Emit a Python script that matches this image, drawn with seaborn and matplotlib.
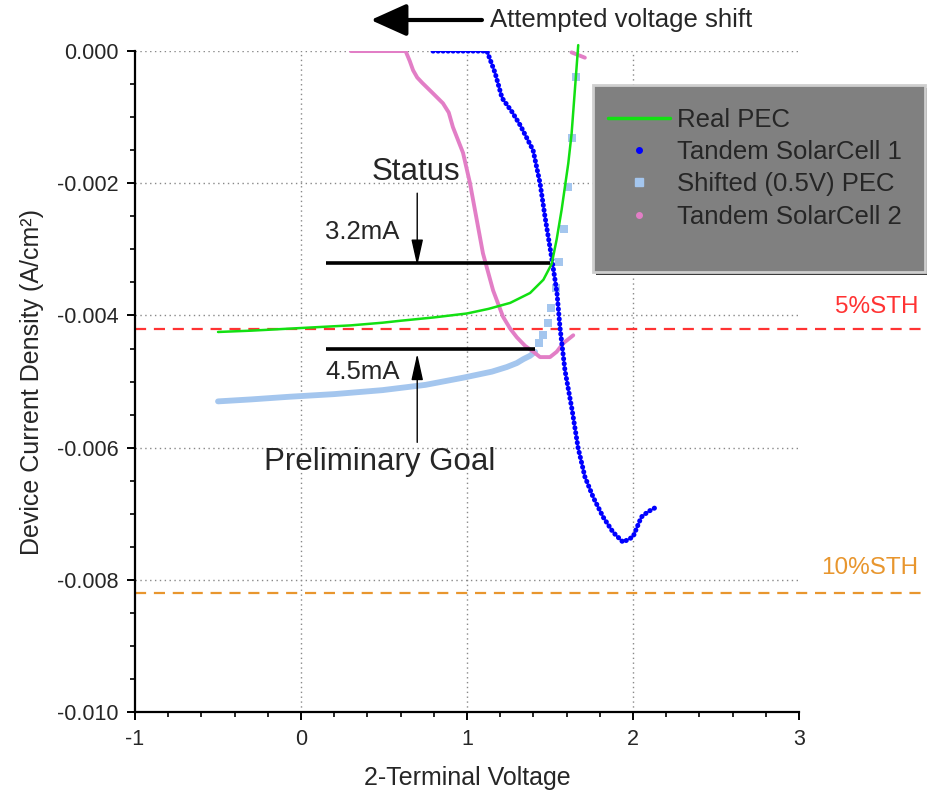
import matplotlib
matplotlib.use("Agg")
import matplotlib.pyplot as plt
from matplotlib.lines import Line2D
from matplotlib.patches import Rectangle
from matplotlib.ticker import MultipleLocator, FormatStrFormatter
import numpy as np
import pandas as pd
import seaborn as sns

# --- measured curves -------------------------------------------------------
real_pec_v = [-0.50, -0.30, 0.00, 0.30, 0.49, 0.60, 0.80, 1.00, 1.13, 1.26,
              1.38, 1.46, 1.51, 1.54, 1.57, 1.59, 1.61, 1.63, 1.65, 1.67]
real_pec_j = [-0.00425, -0.00423, -0.00419, -0.00415, -0.00411, -0.00408,
              -0.00403, -0.00397, -0.00390, -0.00381, -0.00366, -0.00346,
              -0.00322, -0.00285, -0.00240, -0.00205, -0.00170, -0.00125,
              -0.00058, 0.00009]

tandem1_v = [0.795, 1.12, 1.169, 1.211, 1.271, 1.32, 1.398, 1.44, 1.47,
             1.512, 1.542, 1.56, 1.59, 1.633, 1.669, 1.71, 1.76, 1.82, 1.88,
             1.94, 2.00, 2.05, 2.09, 2.14]
tandem1_j = [0.0, 0.0, -0.00033, -0.00071, -0.00092, -0.00112, -0.0015,
             -0.0020, -0.00251, -0.00316, -0.00366, -0.00418, -0.00483,
             -0.00543, -0.0060, -0.00644, -0.00675, -0.00705, -0.00728,
             -0.00743, -0.00735, -0.00705, -0.00697, -0.0069]

shifted_band_v = [-0.50, -0.30, -0.07, 0.20, 0.49, 0.75, 0.98, 1.15, 1.24,
                  1.30, 1.34, 1.38, 1.41]
shifted_band_j = [-0.00530, -0.00527, -0.00523, -0.00519, -0.00513,
                  -0.00505, -0.00494, -0.00485, -0.00478, -0.00472,
                  -0.00466, -0.00461, -0.00455]
shifted_pts_v = [1.434, 1.458, 1.488, 1.506, 1.536, 1.554, 1.585, 1.608,
                 1.633, 1.657]
shifted_pts_j = [-0.00442, -0.0043, -0.00412, -0.00389, -0.00359, -0.00319,
                 -0.00269, -0.00206, -0.00132, -0.00039]

tandem2_v = [0.30, 0.63, 0.655, 0.675, 0.70, 0.73, 0.795, 0.855, 0.89,
             0.915, 0.976, 1.018, 1.096, 1.157, 1.217, 1.26, 1.30, 1.35,
             1.40, 1.44, 1.50, 1.52, 1.54, 1.58, 1.64]
tandem2_j = [0.0, 0.0, -0.00015, -0.00029, -0.00040, -0.00048, -0.00064,
             -0.00079, -0.00093, -0.00115, -0.00154, -0.0020, -0.00306,
             -0.00362, -0.00402, -0.00420, -0.00433, -0.00446, -0.00455,
             -0.00463, -0.00463, -0.00459, -0.00455, -0.00442, -0.0043]
tandem2_tail_v = [1.63, 1.71]
tandem2_tail_j = [-0.00002, -0.00010]

# --- reference levels and annotations ---------------------------------------
sth5_level = -0.0042
sth10_level = -0.0082
status_j = -0.0032
goal_j = -0.0045

green = "#12E012"
blue = "#0000FF"
light_blue = "#A4C6EE"
pink = "#E27EC6"
red = "#FF3333"
orange = "#E8962E"

sns.set_theme(style="white")
plt.rcParams["font.family"] = ["Liberation Sans", "DejaVu Sans"]

fig = plt.figure(figsize=(9.28, 7.93), dpi=100)
ax = fig.add_axes([0.1455, 0.1021, 0.7155, 0.8335])

ax.set_xlim(-1, 3)
ax.set_ylim(-0.010, 0.0)

# dotted grid at the major positions inside the frame
for gx in [0, 1, 2]:
    ax.axvline(gx, color="#888888", lw=1.0, ls=(0, (1, 2.5)), zorder=0)
for gy in [0.0, -0.002, -0.004, -0.006, -0.008]:
    ax.axhline(gy, color="#888888", lw=1.0, ls=(0, (1, 2.5)), zorder=0)

# efficiency levels, running past the frame to the page edge
ax.axhline(sth5_level, xmin=0, xmax=1.2, color=red, lw=1.6,
           ls=(0, (5, 3.5)), clip_on=False, zorder=1)
ax.axhline(sth10_level, xmin=0, xmax=1.2, color=orange, lw=1.6,
           ls=(0, (5, 3.5)), clip_on=False, zorder=1)

df_real = pd.DataFrame({"v": real_pec_v, "j": real_pec_j})
df_t1 = pd.DataFrame({"v": tandem1_v, "j": tandem1_j})
df_band = pd.DataFrame({"v": shifted_band_v, "j": shifted_band_j})
df_pts = pd.DataFrame({"v": shifted_pts_v, "j": shifted_pts_j})
df_t2 = pd.DataFrame({"v": tandem2_v, "j": tandem2_j})
df_t2b = pd.DataFrame({"v": tandem2_tail_v, "j": tandem2_tail_j})

sns.lineplot(data=df_band, x="v", y="j", ax=ax, color=light_blue, lw=4.2,
             sort=False, estimator=None, zorder=2)
sns.scatterplot(data=df_pts, x="v", y="j", ax=ax, color=light_blue,
                marker="s", s=40, linewidth=0, zorder=2)
sns.lineplot(data=df_t2, x="v", y="j", ax=ax, color=pink, lw=2.8,
             sort=False, estimator=None, zorder=3)
sns.lineplot(data=df_t2b, x="v", y="j", ax=ax, color=pink, lw=2.8,
             sort=False, estimator=None, zorder=3, clip_on=False)
sns.lineplot(data=df_t1, x="v", y="j", ax=ax, color=blue, lw=3.6,
             sort=False, estimator=None, zorder=4,
             linestyle=(0, (0.05, 0.95)), dash_capstyle="round")
sns.lineplot(data=df_real, x="v", y="j", ax=ax, color=green, lw=1.8,
             sort=False, estimator=None, zorder=5, clip_on=False)

# status / goal bars
ax.plot([0.15, 1.50], [status_j, status_j], color="black", lw=2.6,
        solid_capstyle="butt", zorder=6)
ax.plot([0.15, 1.41], [goal_j, goal_j], color="black", lw=2.6,
        solid_capstyle="butt", zorder=6)

thin_arrow = dict(arrowstyle="-|>,head_length=0.9,head_width=0.2",
                  color="black", lw=1.0, mutation_scale=18, shrinkA=0,
                  shrinkB=0)
ax.annotate("", xy=(0.70, status_j - 0.00005), xytext=(0.70, -0.00215),
            arrowprops=thin_arrow)
ax.annotate("", xy=(0.70, goal_j - 0.00008), xytext=(0.70, -0.00592),
            arrowprops=thin_arrow)

ax.text(0.69, -0.00183, "Status", fontsize=22.5, ha="center", va="center")
ax.text(0.145, -0.00274, "3.2mA", fontsize=18.5, ha="left", va="center")
ax.text(0.145, -0.00486, "4.5mA", fontsize=18.5, ha="left", va="center")
ax.text(0.475, -0.00622, "Preliminary Goal", fontsize=22.5, ha="center",
        va="center")

# voltage-shift arrow above the frame
ax.annotate("", xy=(0.42, 0.00047), xytext=(1.09, 0.00047),
            arrowprops=dict(arrowstyle="-|>,head_length=1.0,head_width=0.45",
                            color="black", lw=3.0, mutation_scale=22,
                            shrinkA=0, shrinkB=0),
            annotation_clip=False)
ax.text(1.14, 0.00047, "Attempted voltage shift", fontsize=18.5,
        ha="left", va="center", clip_on=False)

ax.text(3.72, -0.00387, "5%STH", fontsize=17.5, color=red, ha="right",
        va="center", clip_on=False)
ax.text(3.72, -0.00782, "10%STH", fontsize=17.5, color=orange, ha="right",
        va="center", clip_on=False)

# axes styling
for side in ["top", "right"]:
    ax.spines[side].set_visible(False)
for side in ["left", "bottom"]:
    ax.spines[side].set_color("black")
    ax.spines[side].set_linewidth(1.6)

ax.xaxis.set_major_locator(MultipleLocator(1))
ax.xaxis.set_minor_locator(MultipleLocator(0.2))
ax.yaxis.set_major_locator(MultipleLocator(0.002))
ax.yaxis.set_minor_locator(MultipleLocator(0.0005))
ax.yaxis.set_major_formatter(FormatStrFormatter("%.3f"))
ax.xaxis.set_major_formatter(FormatStrFormatter("%d"))
ax.tick_params(which="major", direction="out", length=6, width=1.4,
               color="black", labelsize=15.5, bottom=True, left=True, pad=6)
ax.tick_params(which="minor", direction="out", length=3.5, width=1.2,
               color="black", bottom=True, left=True)

ax.set_xlabel("2-Terminal Voltage", fontsize=18, labelpad=12)
ax.set_ylabel("Device Current Density (A/cm²)", fontsize=18, labelpad=9)

# legend panel with bevelled grey box
shadow = Rectangle((596 / 928, 1 - 275 / 793), 332 / 928, 187 / 793,
                   transform=fig.transFigure, facecolor="#3c3c3c",
                   edgecolor="none", zorder=8, clip_on=False)
panel = Rectangle((593 / 928, 1 - 272 / 793), 332 / 928, 187 / 793,
                  transform=fig.transFigure, facecolor="#808080",
                  edgecolor="#cfcfcf", lw=2.0, zorder=9)
fig.add_artist(shadow)
fig.add_artist(panel)

handles = [
    Line2D([], [], color=green, lw=2.5),
    Line2D([], [], color=blue, marker="o", ls="none", markersize=4),
    Line2D([], [], color=light_blue, marker="s", ls="none", markersize=6),
    Line2D([], [], color=pink, marker="o", ls="none", markersize=4),
]
labels = ["Real PEC", "Tandem SolarCell 1", "Shifted (0.5V) PEC",
          "Tandem SolarCell 2"]
leg = fig.legend(handles, labels, loc="upper left",
                 bbox_to_anchor=(608 / 928, 1 - 108 / 793),
                 frameon=False, fontsize=18.5, handlelength=2.4,
                 handletextpad=0.3, labelspacing=0.32, borderpad=0,
                 borderaxespad=0)
leg.set_zorder(10)

fig.savefig("out.png", dpi=100)
